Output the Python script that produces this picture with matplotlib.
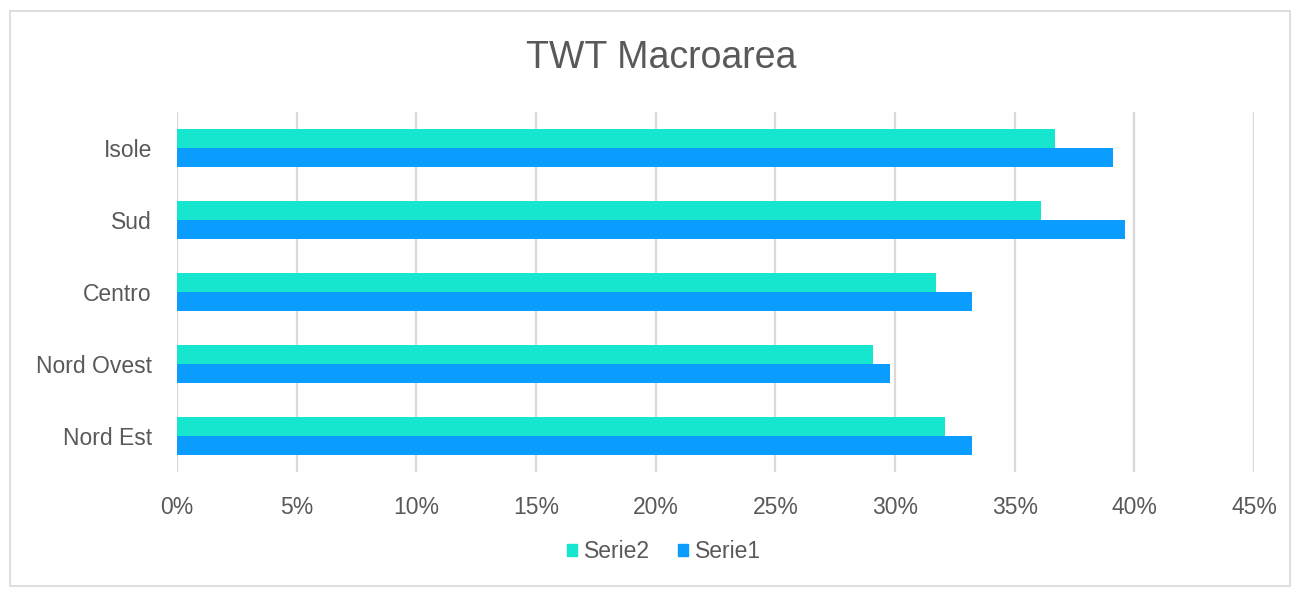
import matplotlib
matplotlib.use("Agg")
import matplotlib.pyplot as plt
from matplotlib.patches import Rectangle, Patch
import numpy as np

plt.rcParams['font.family'] = ['Liberation Sans', 'DejaVu Sans']

categories = ["Nord Est", "Nord Ovest", "Centro", "Sud", "Isole"]
serie1 = [33.2, 29.8, 33.2, 39.6, 39.1]
serie2 = [32.1, 29.1, 31.7, 36.1, 36.7]
xticks = [0, 5, 10, 15, 20, 25, 30, 35, 40, 45]

TEXT = "#595959"
GRID = "#d9d9d9"
C1 = "#0a9cff"
C2 = "#17e6cf"

W, H = 1298, 589
fig = plt.figure(figsize=(W / 100, H / 100), dpi=100)
fig.patch.set_facecolor("white")

# chart frame
fig.add_artist(Rectangle((10 / W, 1 - 586 / H), 1280 / W, 575 / H,
                         transform=fig.transFigure, fill=False,
                         edgecolor=GRID, linewidth=1.2))

ax = fig.add_axes([177 / W, 1 - 472 / H, 1077 / W, 360 / H])
y = np.arange(len(categories))
h = 0.257
ax.barh(y - h / 2, serie1, height=h, color=C1, label="Serie1", zorder=3)
ax.barh(y + h / 2, serie2, height=h, color=C2, label="Serie2", zorder=3)

ax.set_xlim(0, 45)
ax.set_ylim(-0.5, len(categories) - 0.5)
ax.set_xticks(xticks)
ax.set_xticklabels([f"{t}%" for t in xticks])
ax.set_yticks(y)
ax.set_yticklabels(categories)
ax.tick_params(axis="both", length=0, labelsize=16.5, colors=TEXT)
ax.tick_params(axis="x", pad=17)
ax.tick_params(axis="y", pad=18)
for s in ax.spines.values():
    s.set_visible(False)
ax.xaxis.grid(True, color=GRID, linewidth=1.6, zorder=0)
ax.set_axisbelow(True)

fig.text(661 / W, 1 - 58 / H, "TWT Macroarea", ha="center", va="center",
         fontsize=27, color=TEXT)

handles = [Patch(color=C2, label="Serie2"), Patch(color=C1, label="Serie1")]
fig.legend(handles=handles, loc="center", bbox_to_anchor=(664 / W, 1 - 552 / H),
           ncol=2, frameon=False, fontsize=16.5, labelcolor=TEXT,
           handlelength=0.45, handleheight=0.45, handletextpad=0.3,
           columnspacing=1.2)

fig.savefig("out.png", dpi=100, facecolor="white")
